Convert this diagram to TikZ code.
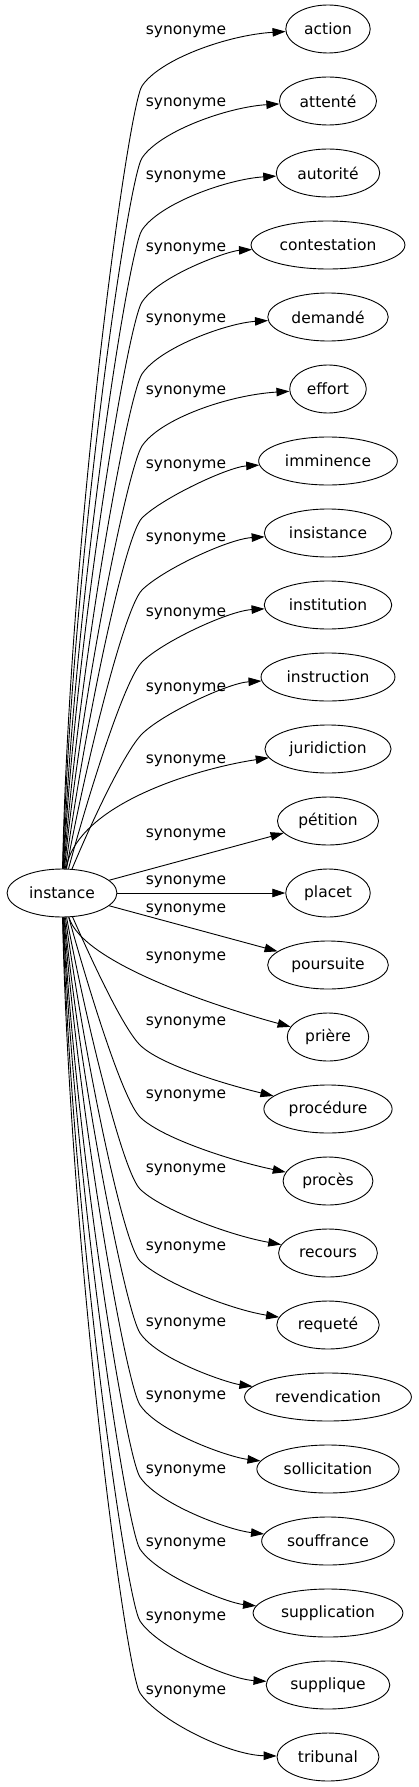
\documentclass[tikz,border=0pt]{standalone}
\usepackage{fontspec}
\setmainfont{DejaVu Sans}
\usetikzlibrary{shapes.geometric,arrows.meta}
\begin{document}
\begin{tikzpicture}[x=1pt,y=-1pt,
 word/.style={draw,ellipse,line width=0.9pt,minimum height=48pt,inner xsep=6pt,font=\fontsize{15.5pt}{18pt}\selectfont},
 lbl/.style={inner sep=0pt,font=\fontsize{15.5pt}{18pt}\selectfont},
 syn/.style={line width=0.9pt,-{Triangle[length=13pt,width=8.5pt]}}]
 \useasboundingbox (0,0) rectangle (419,1787);
 \node[word] (instance) at (62,893) {instance};
 \node[word] (action) at (328,29) {action};
 \node[word] (attente) at (328,101) {attenté};
 \node[word] (autorite) at (328,173) {autorité};
 \node[word] (contestation) at (328,245) {contestation};
 \node[word] (demande) at (328,317) {demandé};
 \node[word] (effort) at (328,389) {effort};
 \node[word] (imminence) at (328,461) {imminence};
 \node[word] (insistance) at (328,533) {insistance};
 \node[word] (institution) at (328,605) {institution};
 \node[word] (instruction) at (328,677) {instruction};
 \node[word] (juridiction) at (328,749) {juridiction};
 \node[word] (petition) at (328,821) {pétition};
 \node[word] (placet) at (328,893) {placet};
 \node[word] (poursuite) at (328,965) {poursuite};
 \node[word] (priere) at (328,1037) {prière};
 \node[word] (procedure) at (328,1109) {procédure};
 \node[word] (proces) at (328,1181) {procès};
 \node[word] (recours) at (328,1253) {recours};
 \node[word] (requete) at (328,1325) {requeté};
 \node[word] (revendication) at (328,1397) {revendication};
 \node[word] (sollicitation) at (328,1469) {sollicitation};
 \node[word] (souffrance) at (328,1541) {souffrance};
 \node[word] (supplication) at (328,1613) {supplication};
 \node[word] (supplique) at (328,1685) {supplique};
 \node[word] (tribunal) at (328,1757) {tribunal};
 \node[lbl] (laction) at (186,32) {synonyme};
 \node[lbl] (lattente) at (186,104) {synonyme};
 \node[lbl] (lautorite) at (186,177) {synonyme};
 \node[lbl] (lcontestation) at (186,249) {synonyme};
 \node[lbl] (ldemande) at (186,320) {synonyme};
 \node[lbl] (leffort) at (186,392) {synonyme};
 \node[lbl] (limminence) at (186,466) {synonyme};
 \node[lbl] (linsistance) at (186,539) {synonyme};
 \node[lbl] (linstitution) at (186,614) {synonyme};
 \node[lbl] (linstruction) at (186,689) {synonyme};
 \node[lbl] (ljuridiction) at (186,761) {synonyme};
 \node[lbl] (lpetition) at (186,835) {synonyme};
 \node[lbl] (lplacet) at (186,882) {synonyme};
 \node[lbl] (lpoursuite) at (186,910) {synonyme};
 \node[lbl] (lpriere) at (186,958) {synonyme};
 \node[lbl] (lprocedure) at (186,1023) {synonyme};
 \node[lbl] (lproces) at (186,1096) {synonyme};
 \node[lbl] (lrecours) at (186,1170) {synonyme};
 \node[lbl] (lrequete) at (186,1248) {synonyme};
 \node[lbl] (lrevendication) at (186,1324) {synonyme};
 \node[lbl] (lsollicitation) at (186,1397) {synonyme};
 \node[lbl] (lsouffrance) at (186,1471) {synonyme};
 \node[lbl] (lsupplication) at (186,1544) {synonyme};
 \node[lbl] (lsupplique) at (186,1618) {synonyme};
 \node[lbl] (ltribunal) at (186,1692) {synonyme};
 \draw[syn] (instance) .. controls +(8,-363) and +(-14,21) .. (142,86) .. controls +(18,-27) and +(-100,6) .. (action);
 \draw[syn] (instance) .. controls +(10,-331) and +(-14,21) .. (142,158) .. controls +(18,-27) and +(-100,6) .. (attente);
 \draw[syn] (instance) .. controls +(13,-298) and +(-14,21) .. (142,230) .. controls +(18,-27) and +(-100,6) .. (autorite);
 \draw[syn] (instance) .. controls +(15,-266) and +(-14,21) .. (142,302) .. controls +(18,-27) and +(-100,6) .. (contestation);
 \draw[syn] (instance) .. controls +(18,-234) and +(-14,21) .. (142,374) .. controls +(18,-27) and +(-100,6) .. (demande);
 \draw[syn] (instance) .. controls +(20,-201) and +(-14,21) .. (142,446) .. controls +(18,-27) and +(-100,6) .. (effort);
 \draw[syn] (instance) .. controls +(23,-169) and +(-17,17) .. (142,518) .. controls +(20,-20) and +(-100,6) .. (imminence);
 \draw[syn] (instance) .. controls +(25,-136) and +(-17,17) .. (142,590) .. controls +(20,-20) and +(-100,6) .. (insistance);
 \draw[syn] (instance) .. controls +(28,-104) and +(-17,17) .. (142,662) .. controls +(20,-20) and +(-100,6) .. (institution);
 \draw[syn] (instance) .. controls +(30,-72) and +(-17,17) .. (142,734) .. controls +(20,-20) and +(-100,6) .. (instruction);
 \draw[syn] (instance) .. controls +(15,-90) and +(-128,19) .. (juridiction);
 \draw[syn] (instance) -- (petition);
 \draw[syn] (instance) -- (placet);
 \draw[syn] (instance) -- (poursuite);
 \draw[syn] (instance) .. controls +(20,70) and +(-110,-30) .. (priere);
 \draw[syn] (instance) .. controls +(30,68) and +(-17,-17) .. (140,1045) .. controls +(20,20) and +(-100,-24) .. (procedure);
 \draw[syn] (instance) .. controls +(28,101) and +(-17,-17) .. (140,1117) .. controls +(20,20) and +(-100,-21) .. (proces);
 \draw[syn] (instance) .. controls +(25,133) and +(-17,-17) .. (140,1189) .. controls +(20,20) and +(-100,-18) .. (recours);
 \draw[syn] (instance) .. controls +(23,166) and +(-17,-17) .. (140,1261) .. controls +(20,20) and +(-100,-16) .. (requete);
 \draw[syn] (instance) .. controls +(20,198) and +(-14,-21) .. (140,1333) .. controls +(18,27) and +(-100,-14) .. (revendication);
 \draw[syn] (instance) .. controls +(18,230) and +(-14,-21) .. (140,1405) .. controls +(18,27) and +(-100,-12) .. (sollicitation);
 \draw[syn] (instance) .. controls +(15,263) and +(-14,-21) .. (140,1477) .. controls +(18,27) and +(-100,-11) .. (souffrance);
 \draw[syn] (instance) .. controls +(13,295) and +(-14,-21) .. (140,1549) .. controls +(18,27) and +(-100,-10) .. (supplication);
 \draw[syn] (instance) .. controls +(10,328) and +(-14,-21) .. (140,1621) .. controls +(18,27) and +(-100,-6) .. (supplique);
 \draw[syn] (instance) .. controls +(8,360) and +(-14,-21) .. (140,1693) .. controls +(18,27) and +(-100,-2) .. (tribunal);
\end{tikzpicture}
\end{document}
